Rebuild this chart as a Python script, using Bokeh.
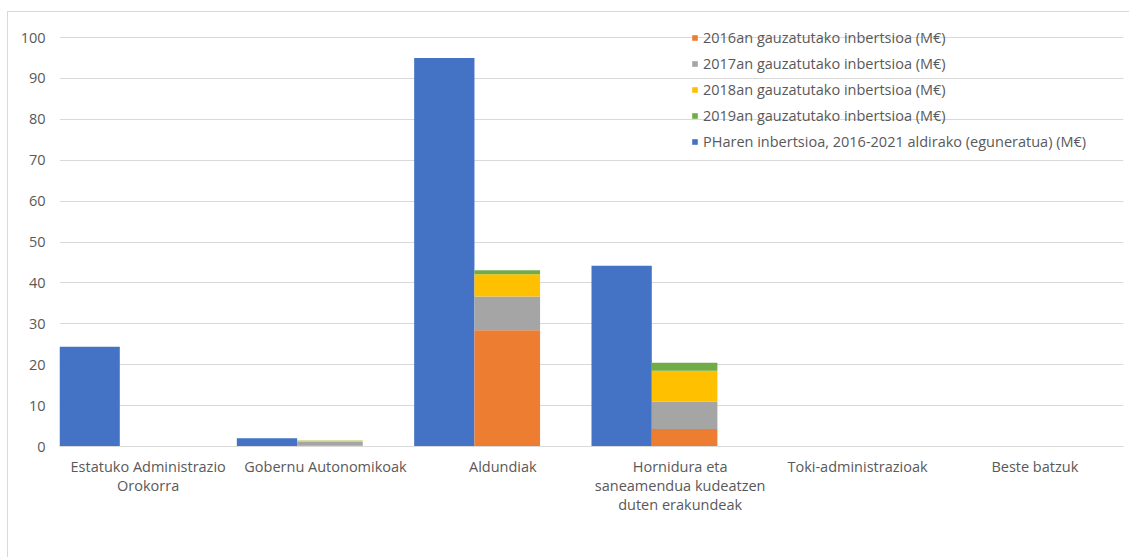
from bokeh.plotting import figure
from bokeh.models import ColumnDataSource, Legend, LegendItem, Range1d, FixedTicker
from bokeh.transform import dodge
from bokeh.embed import file_html
from bokeh.resources import INLINE

categories = [
    "Estatuko Administrazio\nOrokorra",
    "Gobernu Autonomikoak",
    "Aldundiak",
    "Hornidura eta\nsaneamendua kudeatzen\nduten erakundeak",
    "Toki-administrazioak",
    "Beste batzuk",
]
x_pos = [0, 1, 2, 3, 4, 5]
pha_inbertsioa = [24.4, 2.0, 95.0, 44.2, 0, 0]
inv2016 = [0, 0.2, 28.4, 4.3, 0, 0]
inv2017 = [0, 1.0, 8.3, 6.7, 0, 0]
inv2018 = [0, 0.2, 5.4, 7.5, 0, 0]
inv2019 = [0, 0.05, 1.0, 2.0, 0, 0]
y_ticks = [0, 10, 20, 30, 40, 50, 60, 70, 80, 90, 100]
series_names = [
    "2016an gauzatutako inbertsioa (M€)",
    "2017an gauzatutako inbertsioa (M€)",
    "2018an gauzatutako inbertsioa (M€)",
    "2019an gauzatutako inbertsioa (M€)",
    "PHaren inbertsioa, 2016-2021 aldirako (eguneratua) (M€)",
]
colors = ["#ED7D31", "#A5A5A5", "#FFC000", "#70AD47", "#4472C4"]

src = ColumnDataSource(dict(x=x_pos, pha=pha_inbertsioa, s2016=inv2016,
                            s2017=inv2017, s2018=inv2018, s2019=inv2019))

FONT = "Open Sans"
TXT = "#595959"
FS = "14.5px"

p = figure(width=1122, height=546, x_range=Range1d(-0.5, 5.5), y_range=Range1d(0, 103.2),
           output_backend="svg", toolbar_location=None,
           min_border_left=51, min_border_right=7, min_border_top=12, min_border_bottom=112)
p.styles = {"margin-left": "7px", "margin-top": "11px",
            "border-left": "1px solid #d9d9d9", "border-top": "1px solid #d9d9d9"}

blue = p.vbar(x=dodge("x", -0.33), top="pha", width=0.34, color=colors[4],
              line_color=None, source=src)
stack = p.vbar_stack(["s2016", "s2017", "s2018", "s2019"], x=dodge("x", 0.025), width=0.37,
                     color=colors[:4], line_color=None, source=src)

items = [LegendItem(label=series_names[i], renderers=[stack[i]]) for i in range(4)]
items.append(LegendItem(label=series_names[4], renderers=[blue]))
legend = Legend(items=items, location=(632, 292), padding=0, margin=0, spacing=0,
                label_height=26, glyph_width=7, glyph_height=7, label_standoff=5,
                label_text_font=FONT, label_text_font_size=FS, label_text_color=TXT,
                border_line_color=None, background_fill_alpha=0)
p.add_layout(legend, "center")

p.xaxis.ticker = FixedTicker(ticks=x_pos)
p.xaxis.major_label_overrides = {x: c for x, c in zip(x_pos, categories)}
p.yaxis.ticker = FixedTicker(ticks=y_ticks)
for ax in (p.xaxis, p.yaxis):
    ax.major_tick_line_color = None
    ax.minor_tick_line_color = None
    ax.major_label_text_font = FONT
    ax.major_label_text_font_size = FS
    ax.major_label_text_color = TXT
p.xaxis.major_label_text_line_height = 1.0
p.xaxis.axis_line_color = "#d9d9d9"
p.yaxis.axis_line_color = None
p.xaxis.major_label_standoff = 4
p.yaxis.major_label_standoff = 8
p.xgrid.grid_line_color = None
p.ygrid.grid_line_color = "#d9d9d9"
p.outline_line_color = None

open("out.html", "w").write(file_html(p, INLINE))
